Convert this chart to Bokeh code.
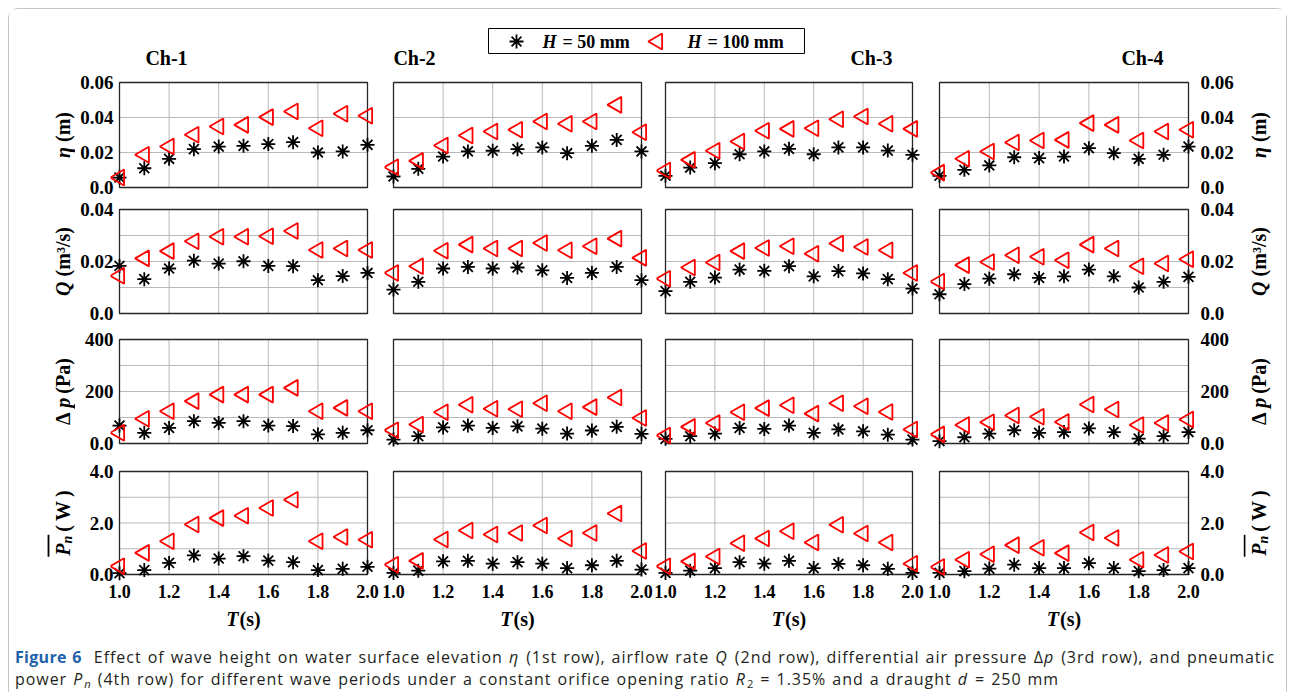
import numpy as np
from bokeh.plotting import figure
from bokeh.layouts import column, row
from bokeh.models import Range1d, FixedTicker, Label, Div
from bokeh.embed import file_html
from bokeh.resources import INLINE

# ---------------- data ----------------
T_s = [1.0, 1.1, 1.2, 1.3, 1.4, 1.5, 1.6, 1.7, 1.8, 1.9, 2.0]
channels = ["Ch-1", "Ch-2", "Ch-3", "Ch-4"]
x_ticks = [1.0, 1.2, 1.4, 1.6, 1.8, 2.0]
x_tick_labels = ["1.0", "1.2", "1.4", "1.6", "1.8", "2.0"]

# water surface elevation eta (m)
eta_h50 = [
    [0.0057, 0.0110, 0.0164, 0.0219, 0.0234, 0.0238, 0.0248, 0.0259, 0.0200, 0.0206, 0.0244],
    [0.0063, 0.0107, 0.0177, 0.0206, 0.0210, 0.0219, 0.0229, 0.0196, 0.0238, 0.0272, 0.0206],
    [0.0067, 0.0114, 0.0139, 0.0190, 0.0206, 0.0221, 0.0190, 0.0229, 0.0229, 0.0211, 0.0187],
    [0.0067, 0.0101, 0.0126, 0.0173, 0.0168, 0.0177, 0.0225, 0.0196, 0.0164, 0.0187, 0.0234],
]
eta_h100 = [
    [0.0057, 0.0187, 0.0234, 0.0301, 0.0349, 0.0358, 0.0402, 0.0434, 0.0339, 0.0421, 0.0410],
    [0.0116, 0.0152, 0.0240, 0.0297, 0.0320, 0.0330, 0.0377, 0.0364, 0.0377, 0.0472, 0.0316],
    [0.0097, 0.0158, 0.0210, 0.0263, 0.0324, 0.0335, 0.0339, 0.0390, 0.0406, 0.0364, 0.0335],
    [0.0085, 0.0164, 0.0206, 0.0257, 0.0269, 0.0272, 0.0368, 0.0358, 0.0269, 0.0320, 0.0330],
]
# airflow rate Q (m3/s)
q_h50 = [
    [0.0183, 0.0132, 0.0173, 0.0203, 0.0192, 0.0201, 0.0183, 0.0182, 0.0128, 0.0144, 0.0156],
    [0.0092, 0.0122, 0.0173, 0.0179, 0.0173, 0.0177, 0.0166, 0.0137, 0.0156, 0.0179, 0.0128],
    [0.0086, 0.0122, 0.0138, 0.0169, 0.0164, 0.0182, 0.0143, 0.0163, 0.0154, 0.0132, 0.0096],
    [0.0074, 0.0113, 0.0134, 0.0151, 0.0137, 0.0143, 0.0169, 0.0143, 0.0100, 0.0122, 0.0141],
]
q_h100 = [
    [0.0145, 0.0212, 0.0240, 0.0278, 0.0295, 0.0295, 0.0297, 0.0317, 0.0244, 0.0250, 0.0244],
    [0.0156, 0.0182, 0.0241, 0.0265, 0.0250, 0.0250, 0.0271, 0.0243, 0.0259, 0.0288, 0.0214],
    [0.0134, 0.0177, 0.0196, 0.0240, 0.0252, 0.0259, 0.0230, 0.0269, 0.0256, 0.0243, 0.0156],
    [0.0123, 0.0186, 0.0198, 0.0224, 0.0218, 0.0205, 0.0265, 0.0250, 0.0182, 0.0192, 0.0209],
]
# differential air pressure dp (Pa)
dp_h50 = [
    [69, 41, 60, 86, 79, 86, 69, 67, 35, 41, 51],
    [15, 28, 62, 69, 60, 66, 57, 38, 50, 64, 37],
    [18, 28, 38, 60, 56, 69, 41, 54, 47, 34, 15],
    [9, 24, 38, 51, 41, 44, 58, 44, 19, 28, 44],
]
dp_h100 = [
    [41, 95, 124, 163, 188, 188, 188, 214, 124, 137, 124],
    [51, 73, 120, 149, 134, 132, 155, 124, 140, 177, 98],
    [31, 64, 79, 120, 136, 147, 115, 155, 143, 121, 54],
    [35, 71, 82, 108, 103, 83, 150, 131, 71, 79, 92],
]
# pneumatic power Pn (W)
pn_h50 = [
    [0.05, 0.17, 0.45, 0.74, 0.62, 0.71, 0.54, 0.48, 0.17, 0.22, 0.30],
    [0.06, 0.15, 0.51, 0.53, 0.42, 0.48, 0.42, 0.25, 0.36, 0.53, 0.19],
    [0.06, 0.15, 0.25, 0.48, 0.42, 0.53, 0.25, 0.41, 0.36, 0.22, 0.06],
    [0.06, 0.13, 0.23, 0.38, 0.25, 0.25, 0.44, 0.25, 0.13, 0.17, 0.25],
]
pn_h100 = [
    [0.32, 0.84, 1.29, 1.94, 2.19, 2.28, 2.58, 2.90, 1.29, 1.46, 1.35],
    [0.38, 0.53, 1.36, 1.71, 1.55, 1.61, 1.90, 1.40, 1.61, 2.37, 0.91],
    [0.32, 0.51, 0.70, 1.21, 1.40, 1.68, 1.24, 1.93, 1.59, 1.24, 0.42],
    [0.29, 0.57, 0.79, 1.14, 1.04, 0.83, 1.63, 1.42, 0.57, 0.76, 0.89],
]

series_h50 = [eta_h50, q_h50, dp_h50, pn_h50]
series_h100 = [eta_h100, q_h100, dp_h100, pn_h100]
y_max = [0.06, 0.04, 400, 4.0]
y_major = [[0, 0.02, 0.04, 0.06], [0, 0.02, 0.04], [0, 200, 400], [0, 2.0, 4.0]]
y_major_labels = [["0.0", "0.02", "0.04", "0.06"], ["0.0", "0.02", "0.04"],
                  ["0.0", "200", "400"], ["0.0", "2.0", "4.0"]]
y_grid = [[0.02, 0.04], [0.01, 0.02, 0.03], [100, 200, 300], [1.0, 2.0, 3.0]]
x_grid = [1.2, 1.4, 1.6, 1.8]
legend_labels = ["= 50 mm", "= 100 mm"]

# ---------------- layout geometry (screen px) ----------------
FONT = "Liberation Serif"
PAD = 9
box_left = [118, 392, 664, 938]
box_right = [366, 640, 911, 1187]
box_top = [81, 208, 338, 470]
box_bot = [186, 312, 442, 573]
col_edges = [74, 379, 652, 924, 1242]
row_edges = [68, 197, 325, 456, 607]
LEFT_X, RIGHT_X, TOP_Y, BOT_Y, CAP_Y = 8, 1285, 8, 635, 691

EM = {"0": .5, "1": .5, "2": .5, "3": .5, "4": .5, "5": .5, "6": .5, "7": .5, "8": .5, "9": .5,
      ".": .25, "(": .333, ")": .333, "m": .833, "s": .389, "/": .278, "a": .5, "P": .611,
      "W": 1.0, "Q": .722, "p": .5, "n": .556, "η": .55, "Δ": .612, "³": .3, " ": .25,
      "T": .611, "C": .722, "h": .556, "-": .333, "H": .778, "=": .57}


def tw(s, size):
    return sum(EM.get(ch, .5) for ch in s) * size


def strip_fig(x0, x1, y0, y1):
    f = figure(width=x1 - x0, height=y1 - y0, x_range=Range1d(x0, x1), y_range=Range1d(y1, y0),
               output_backend="svg", toolbar_location=None, x_axis_location=None,
               y_axis_location=None, min_border=0)
    f.outline_line_color = None
    f.grid.visible = False
    f.background_fill_color = "white"
    f.border_fill_color = "white"
    return f


def add_label(f, x, y, text, style="bold", size=20, align="left", angle=0.0):
    f.add_layout(Label(x=x, y=y, text=text, angle=angle, text_align=align,
                       text_baseline="middle", text_font=FONT, text_font_style=style,
                       text_font_size=f"{size}px", text_color="black"))


TS = 20  # axis-title size
title_pieces = [
    [("η", "bold italic", TS, 0, 0), ("(m)", "bold", TS, 0, 5)],
    [("Q", "bold italic", TS, 0, 0), ("(m³/s)", "bold", TS, 0, 5)],
    [("Δ", "bold", TS, 0, 0), ("p", "bold italic", TS, 0, 5), ("(Pa)", "bold", TS, 0, 4)],
    [("P", "bold italic", TS, 0, 0), ("n", "bold italic", 14, 5, 0), ("(", "bold", TS, 0, 4),
     ("W", "bold", TS, 0, 4), (")", "bold", TS, 0, 4)],
]


def add_vertical_title(f, sx, sy_c, pieces, overline=False):
    total = sum(tw(t, sz) + g for t, st, sz, sh, g in pieces)
    y = sy_c + total / 2.0
    y_start = y
    for t, st, sz, sh, g in pieces:
        y -= g
        add_label(f, sx + sh, y, t, style=st, size=sz, angle=np.pi / 2)
        y -= tw(t, sz)
    if overline:
        span = tw("P", TS) + tw("n", 14)
        f.segment(x0=[sx - 14], y0=[y_start + 1], x1=[sx - 14], y1=[y_start - span - 1],
                  line_color="black", line_width=1.8)


def make_panel(r, c):
    fl, fr = box_left[c] - PAD, box_right[c] + PAD
    ft, fb = box_top[r] - PAD, box_bot[r] + PAD
    W = col_edges[c + 1] - col_edges[c]
    H = row_edges[r + 1] - row_edges[r]
    bw = box_right[c] - box_left[c]
    bh = box_bot[r] - box_top[r]
    ymax = y_max[r]
    dx = PAD / bw * 1.0
    dy = PAD / bh * ymax
    p = figure(width=W, height=H, x_range=Range1d(1.0 - dx, 2.0 + dx),
               y_range=Range1d(-dy, ymax + dy), output_backend="svg",
               toolbar_location=None,
               x_axis_location="below" if r == 3 else None,
               y_axis_location="left" if c == 0 else ("right" if c == 3 else None),
               min_border_left=fl - col_edges[c], min_border_right=col_edges[c + 1] - fr,
               min_border_top=ft - row_edges[r], min_border_bottom=row_edges[r + 1] - fb)
    p.outline_line_color = None
    p.background_fill_color = "white"
    p.border_fill_color = "white"
    p.grid.visible = False

    for ax in p.axis:
        ax.axis_line_color = None
        ax.major_tick_line_color = None
        ax.minor_tick_line_color = None
        ax.major_tick_out = 0
        ax.major_tick_in = 0
        ax.minor_tick_out = 0
        ax.minor_tick_in = 0
        ax.major_label_text_font = FONT
        ax.major_label_text_font_style = "bold"
        ax.major_label_text_font_size = "19px"
        ax.major_label_text_color = "black"
    if r == 3:
        p.xaxis.ticker = FixedTicker(ticks=x_ticks)
        p.xaxis.major_label_overrides = dict(zip(x_ticks, x_tick_labels))
        p.xaxis.major_label_standoff = 1
        p.xaxis.major_label_text_font_size = "18px"
    if c in (0, 3):
        p.yaxis.ticker = FixedTicker(ticks=y_major[r])
        p.yaxis.major_label_overrides = dict(zip(y_major[r], y_major_labels[r]))
        p.yaxis.major_label_standoff = -3 if c == 0 else 3

    # grid lines inside the box
    gx = x_grid
    p.segment(x0=gx, y0=[0] * len(gx), x1=gx, y1=[ymax] * len(gx), line_color="#b9b9b9", line_width=1)
    gy = y_grid[r]
    p.segment(x0=[1.0] * len(gy), y0=gy, x1=[2.0] * len(gy), y1=gy, line_color="#b9b9b9", line_width=1)
    # axes box
    p.quad(left=1.0, right=2.0, bottom=0, top=ymax, fill_color=None, line_color="#262626", line_width=1.3)

    # data
    p.scatter(T_s, series_h50[r][c], marker="asterisk", size=14, line_color="black", line_width=1.8)
    p.scatter(T_s, series_h100[r][c], marker="triangle", angle=np.pi / 2, size=16,
              line_color="#ff0000", fill_color=None, line_width=1.8)
    return p


# ---------------- top strip: channel titles and legend ----------------
strip = strip_fig(LEFT_X, RIGHT_X, TOP_Y, row_edges[0])
for cx, name in zip([165, 413, 870, 1141], channels):
    add_label(strip, cx, 56, name, size=20, align="center")
strip.quad(left=487, right=803, top=27, bottom=52, fill_color="white", line_color="black", line_width=1)
strip.scatter([515], [40], marker="asterisk", size=14, line_color="black", line_width=1.8)
strip.scatter([656], [40], marker="triangle", angle=np.pi / 2, size=16, line_color="#ff0000",
              fill_color=None, line_width=1.8)
for hx, lx, lab in [(541, 561, legend_labels[0]), (686, 706, legend_labels[1])]:
    add_label(strip, hx, 40, "H", style="bold italic", size=18)
    add_label(strip, lx, 40, lab, style="bold", size=18)

# ---------------- side strips: y-axis titles ----------------
left_strip = strip_fig(LEFT_X, col_edges[0], row_edges[0], row_edges[-1])
right_strip = strip_fig(col_edges[-1], RIGHT_X, row_edges[0], row_edges[-1])
for r in range(4):
    cy = (box_top[r] + box_bot[r]) / 2.0
    add_vertical_title(left_strip, 61, cy, title_pieces[r], overline=(r == 3))
    add_vertical_title(right_strip, 1257, cy, title_pieces[r], overline=(r == 3))

# ---------------- bottom strip: x-axis titles ----------------
bottom_strip = strip_fig(LEFT_X, RIGHT_X, row_edges[-1], BOT_Y)
for c in range(4):
    cx = (box_left[c] + box_right[c]) / 2.0
    wT, wS = tw("T", 20), tw("(s)", 20)
    x0 = cx - (wT + wS + 1) / 2.0
    add_label(bottom_strip, x0, 617, "T", style="bold italic", size=20)
    add_label(bottom_strip, x0 + wT + 1, 617, "(s)", style="bold", size=20)

rows = []
for r in range(4):
    rows.append(row([make_panel(r, c) for c in range(4)], spacing=0))
grid_block = column(rows, spacing=0)
middle = row([left_strip, grid_block, right_strip], spacing=0)

SUB = 'style="font-size:70%;line-height:0;vertical-align:-0.25em;padding-left:1px"'
IT = 'style="padding-right:1px"'
caption_html = (
    '<div style="font-family:\'Open Sans\',sans-serif;font-size:16px;line-height:22px;'
    'letter-spacing:0.95px;word-spacing:1px;color:#231f20;white-space:nowrap;padding:10px 0 0 6px;">'
    '<b style="color:#1d62a8;letter-spacing:0.3px">Figure 6</b>&nbsp;&nbsp;Effect of wave height on water surface elevation '
    f'<i {IT}>η</i> (1st row), airflow rate <i {IT}>Q</i> (2nd row), differential air pressure Δ<i {IT}>p</i> (3rd row), '
    f'and pneumatic<br>power <i>P</i><sub {SUB}><i>n</i></sub> '
    '(4th row) for different wave periods under a constant orifice opening ratio '
    f'<i>R</i><sub {SUB}>2</sub> = 1.35% '
    f'and a draught <i {IT}>d</i> = 250 mm</div>'
)
caption = Div(text=caption_html, width=RIGHT_X - LEFT_X, height=CAP_Y - BOT_Y, margin=0)

layout = column([strip, middle, bottom_strip, caption], spacing=0, margin=(8, 0, 0, 8),
                styles={"border": "1px solid #c4c4c4", "border-bottom": "none",
                        "border-radius": "10px 10px 0 0"})

open("out.html", "w").write(file_html(layout, INLINE))
